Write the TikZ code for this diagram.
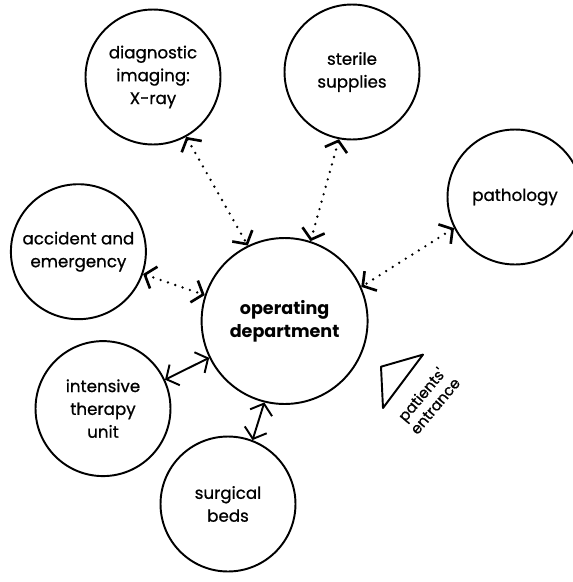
\documentclass[tikz,border=0pt]{standalone}
\usepackage{fontspec}
\setmainfont{Poppins}
\newfontfamily\roomfont{Poppins}[FakeBold=0.8]
\usetikzlibrary{arrows.meta}
\begin{document}
\begin{tikzpicture}[x=0.02cm,y=-0.02cm,
    room/.style={circle,draw,line width=1.1pt,minimum size=2.7cm,inner sep=0pt,align=center,font=\roomfont\fontsize{9.5}{13}\selectfont},
    link/.style={line width=1.1pt,{Straight Barb[length=1.9mm,width=4.6mm]}-{Straight Barb[length=1.9mm,width=4.6mm]}},
    dotlink/.style={link,line cap=round,dash pattern=on 0pt off 4.4pt,line width=1.5pt}]
    \useasboundingbox (0,0) rectangle (572,582);
    \node[room,minimum size=3.32cm,font=\bfseries\fontsize{10}{13}\selectfont] (op) at (284.6,321) {operating\\department};
    \node[room] (xray) at (153,77) {diagnostic\\imaging:\\X-ray};
    \node[room] (sterile) at (352,72) {sterile\\supplies};
    \node[room] (path) at (515,197) {pathology};
    \node[room] (ae) at (78.4,251.7) {accident and\\emergency};
    \node[room] (itu) at (103,408.6) {intensive\\therapy\\unit};
    \node[room] (beds) at (228,504) {surgical\\beds};
    \draw[dotlink] (xray.-61.6) -- (op.116.6);
    \draw[dotlink] (sterile.-101) -- (op.72.8);
    \draw[dotlink] (path.207.7) -- (op.24.6);
    \draw[dotlink] (ae.-19) -- (op.162.8);
    \draw[link] (itu.25.8) -- (op.206.7);
    \draw[link] (beds.69.3) -- (op.-104.9);
    % entrance
    \draw[line width=1.1pt,line join=round] (381,366.7) -- (423,354.6) -- (383,408) -- cycle;
    \node[rotate=50,align=center,inner sep=0pt,font=\roomfont\fontsize{8.5}{10}\selectfont] (entrance) at (428,400) {patients'\\entrance};
\end{tikzpicture}
\end{document}
